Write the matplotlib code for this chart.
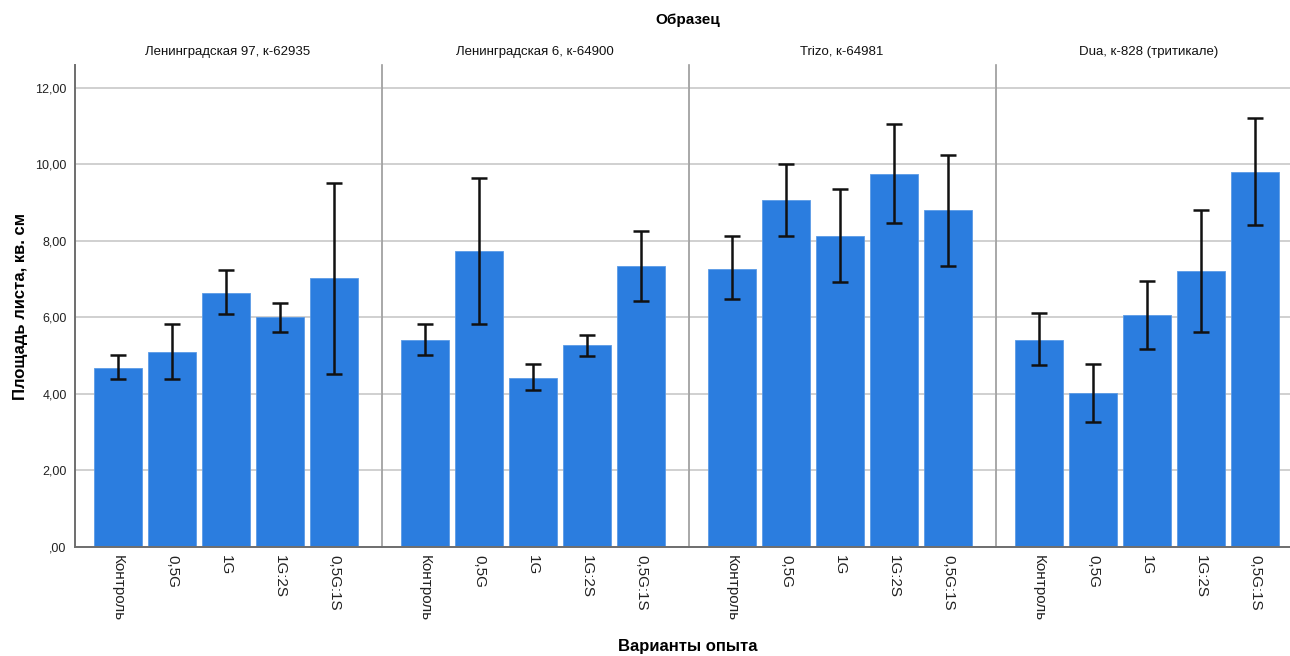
import matplotlib
matplotlib.use('Agg')
import matplotlib.pyplot as plt
from matplotlib.ticker import FuncFormatter

plt.rcParams['font.family'] = ['Liberation Sans', 'DejaVu Sans']

samples = ['Ленинградская 97, к-62935', 'Ленинградская 6, к-64900',
           'Trizo, к-64981', 'Dua, к-828 (тритикале)']
variants = ['Контроль', '0,5G', '1G', '1G:2S', '0,5G:1S']

# mean leaf area and error bar limits per sample
mean_len97 = [4.69, 5.09, 6.65, 6.00, 7.02]
low_len97 = [4.40, 4.38, 6.10, 5.61, 4.51]
high_len97 = [5.03, 5.82, 7.23, 6.37, 9.51]

mean_len6 = [5.42, 7.73, 4.43, 5.27, 7.34]
low_len6 = [5.03, 5.83, 4.11, 5.00, 6.44]
high_len6 = [5.84, 9.65, 4.79, 5.54, 8.26]

mean_trizo = [7.28, 9.06, 8.12, 9.75, 8.80]
low_trizo = [6.47, 8.13, 6.94, 8.48, 7.35]
high_trizo = [8.12, 10.00, 9.35, 11.05, 10.26]

mean_dua = [5.42, 4.03, 6.06, 7.22, 9.80]
low_dua = [4.77, 3.27, 5.17, 5.63, 8.41]
high_dua = [6.11, 4.78, 6.95, 8.81, 11.21]

means = [mean_len97, mean_len6, mean_trizo, mean_dua]
lows = [low_len97, low_len6, low_trizo, low_dua]
highs = [high_len97, high_len6, high_trizo, high_dua]

W, H = 1290, 656
fig = plt.figure(figsize=(W / 100, H / 100), dpi=100)

left_px = [75, 382, 689, 996]
panel_w = 306
top_px, bottom_px = 65, 547

fmt = FuncFormatter(lambda v, p: (',00' if v == 0 else f'{v:.2f}'.replace('.', ',')))

for i, name in enumerate(samples):
    ax = fig.add_axes([left_px[i] / W, 1 - bottom_px / H,
                       panel_w / W, (bottom_px - top_px) / H])
    x = list(range(len(variants)))
    m = means[i]
    err = [[m[k] - lows[i][k] for k in x], [highs[i][k] - m[k] for k in x]]
    ax.bar(x, m, width=0.89, color='#2b7ddf', edgecolor='#5b9be6',
           linewidth=0.6, zorder=2)
    ax.errorbar(x, m, yerr=err, fmt='none', ecolor='#111111',
                elinewidth=1.8, capsize=6, capthick=1.8, zorder=3)
    ax.set_xlim(-0.8, 4.87)
    ax.set_ylim(0, 12.6)
    ax.set_yticks([0, 2, 4, 6, 8, 10, 12])
    ax.yaxis.grid(True, color='#c8c8c8', linewidth=1.2, zorder=0)
    ax.set_axisbelow(True)
    ax.set_xticks(x)
    ax.set_xticklabels(variants, rotation=270, fontsize=11, color='#222222')
    ax.tick_params(axis='x', length=0, pad=6)
    ax.tick_params(axis='y', length=0, pad=6)
    for s in ['top', 'right']:
        ax.spines[s].set_visible(False)
    ax.spines['bottom'].set_color('#6e6e6e')
    ax.spines['bottom'].set_linewidth(1.4)
    if i == 0:
        ax.yaxis.set_major_formatter(fmt)
        ax.tick_params(axis='y', labelsize=9, labelcolor='#222222')
        ax.spines['left'].set_color('#6e6e6e')
        ax.spines['left'].set_linewidth(1.4)
        ax.set_ylabel('Площадь листа, кв. см', fontsize=12, fontweight='bold',
                      labelpad=5)
    else:
        ax.set_yticklabels([])
        ax.spines['left'].set_color('#9a9a9a')
        ax.spines['left'].set_linewidth(1.2)
    # facet title, centred over the panel
    fig.text((left_px[i] + 153) / W, 1 - 52 / H, name, ha='center',
             va='center', fontsize=9.5, color='#111111')

fig.text(688 / W, 1 - 20 / H, 'Образец', ha='center', va='center',
         fontsize=11, fontweight='bold')
fig.text(688 / W, 1 - 646 / H, 'Варианты опыта', ha='center', va='center',
         fontsize=12, fontweight='bold')

fig.savefig('out.png', dpi=100)
